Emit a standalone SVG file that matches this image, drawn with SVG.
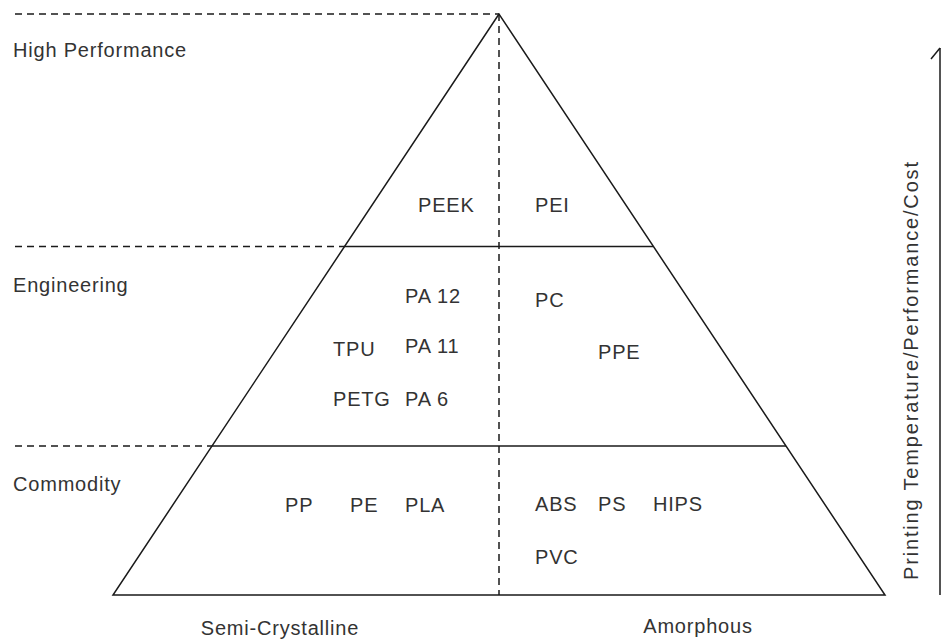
<svg xmlns="http://www.w3.org/2000/svg" width="943" height="639" viewBox="0 0 943 639">
<style>
  .lbl { font-family: "Liberation Sans", Arial, sans-serif; font-size: 20px; fill: #333; letter-spacing: 0.8px; }
  .solid { stroke: #1a1a1a; stroke-width: 1.5; fill: none; }
  .dash { stroke: #1a1a1a; stroke-width: 1.5; fill: none; stroke-dasharray: 7 5; }
</style>
<rect width="943" height="639" fill="#fff"/>
<g id="connectors">
  <line class="dash" x1="15" y1="14" x2="499" y2="14"/>
  <line class="dash" x1="15" y1="246.5" x2="345" y2="246.5"/>
  <line class="dash" x1="15" y1="446" x2="212" y2="446"/>
  <line class="dash" x1="499" y1="14" x2="499" y2="595"/>
  <path class="solid" d="M499,14 L113,595 L885,595 Z"/>
  <line class="solid" x1="345" y1="246.5" x2="653" y2="246.5"/>
  <line class="solid" x1="212" y1="446" x2="786" y2="446"/>
  <line class="solid" x1="940" y1="595" x2="940" y2="48"/>
  <line class="solid" x1="940" y1="48" x2="931" y2="59"/>
</g>
<g id="tiers">
  <text class="lbl" x="13" y="57">High Performance</text>
  <text class="lbl" x="13" y="292">Engineering</text>
  <text class="lbl" x="13" y="491">Commodity</text>
</g>
<g id="axis-labels">
  <text class="lbl" x="280" y="635" text-anchor="middle">Semi-Crystalline</text>
  <text class="lbl" x="698" y="633" text-anchor="middle">Amorphous</text>
  <text class="lbl" transform="translate(918,580) rotate(-90)" x="0" y="0" textLength="418" lengthAdjust="spacing" style="letter-spacing:0">Printing Temperature/Performance/Cost</text>
</g>
<g id="node-PEEK"><text class="lbl" x="418" y="212">PEEK</text></g>
<g id="node-PEI"><text class="lbl" x="535" y="212">PEI</text></g>
<g id="node-PA12"><text class="lbl" x="405" y="303">PA 12</text></g>
<g id="node-PC"><text class="lbl" x="535" y="307">PC</text></g>
<g id="node-TPU"><text class="lbl" x="333" y="356">TPU</text></g>
<g id="node-PA11"><text class="lbl" x="405" y="353">PA 11</text></g>
<g id="node-PPE"><text class="lbl" x="598" y="359">PPE</text></g>
<g id="node-PETG"><text class="lbl" x="333" y="406">PETG</text></g>
<g id="node-PA6"><text class="lbl" x="405" y="406">PA 6</text></g>
<g id="node-PP"><text class="lbl" x="285" y="512">PP</text></g>
<g id="node-PE"><text class="lbl" x="350" y="512">PE</text></g>
<g id="node-PLA"><text class="lbl" x="405" y="512">PLA</text></g>
<g id="node-ABS"><text class="lbl" x="535" y="511">ABS</text></g>
<g id="node-PS"><text class="lbl" x="598" y="511">PS</text></g>
<g id="node-HIPS"><text class="lbl" x="653" y="511">HIPS</text></g>
<g id="node-PVC"><text class="lbl" x="535" y="564">PVC</text></g>
</svg>
